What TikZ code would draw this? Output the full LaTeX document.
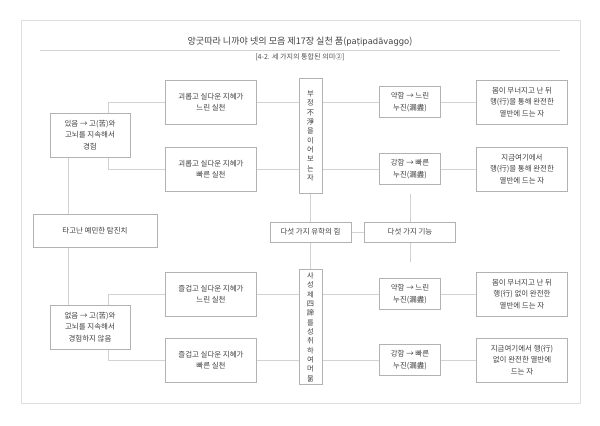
\documentclass[tikz,border=0pt]{standalone}
\usepackage{fontspec}
\setmainfont{Noto Sans CJK KR}
\newfontfamily\latinfont{DejaVu Sans}
\usepackage{tikz}
\usetikzlibrary{backgrounds}
\tikzset{
  box/.style={draw=gray!60, fill=white, align=center, inner sep=0pt, text=black!75,
              font=\fontsize{5.6}{8.5}\selectfont},
  vbox/.style={box, font=\fontsize{5.4}{7}\selectfont},
  link/.style={draw=gray!35, line width=0.5pt}
}
\begin{document}
\begin{tikzpicture}[x=0.75pt,y=-0.75pt]
         \useasboundingbox (0,0) rectangle (600,425);
         % Frame and title
         \draw [gray!25] (21,20) rectangle (580,403);
         \draw [gray!35] (40,50) -- (560,50);
         \node (title) at (300,42) [text=black!75, font=\fontsize{6.8}{8}\selectfont] {앙굿따라 니까야 넷의 모음 제17장 실천 품({\latinfont\fontsize{6.3}{8}\selectfont paṭipadāvaggo})};
         \node (sub) at (300,57) [text=black!70, font=\fontsize{5.3}{7}\selectfont] {[4-2. 세 가지의 통합된 의미②]};
         % Left column
         \node [box, minimum width=60, minimum height=33] (A1) at (90,135) {있음 → 고(苦)와\\고뇌를 지속해서\\경험};
         \node [box, minimum width=93, minimum height=25] (C)  at (95,231) {타고난 예민한 탐진치};
         \node [box, minimum width=60, minimum height=33] (A2) at (90,327) {없음 → 고(苦)와\\고뇌를 지속해서\\경험하지 않음};
         % Practice boxes
         \node [box, minimum width=68, minimum height=33] (B1) at (211,102) {괴롭고 실다운 지혜가\\느린 실천};
         \node [box, minimum width=68, minimum height=33] (B2) at (211,169) {괴롭고 실다운 지혜가\\빠른 실천};
         \node [box, minimum width=68, minimum height=33] (B3) at (211,294) {즐겁고 실다운 지혜가\\느린 실천};
         \node [box, minimum width=68, minimum height=33] (B4) at (211,360) {즐겁고 실다운 지혜가\\빠른 실천};
         % Vertical boxes
         \node [vbox, minimum width=17, minimum height=86] (V1) at (310.5,136) {부\\정\\不\\淨\\을\\이\\어\\보\\는\\자};
         \node [vbox, minimum width=17, minimum height=86] (V2) at (310.5,327) {사\\성\\제\\四\\諦\\를\\성\\취\\하\\여\\머\\묾};
         \node [box, minimum width=61, minimum height=15] (D) at (310.5,232) {다섯 가지 유학의 힘};
         \node [box, minimum width=68, minimum height=15] (E) at (410,232) {다섯 가지 기능};
         % Speed boxes
         \node [box, minimum width=46, minimum height=23] (S1) at (410,102) {약함 → 느린\\누진(漏盡)};
         \node [box, minimum width=46, minimum height=23] (S2) at (410,169) {강함 → 빠른\\누진(漏盡)};
         \node [box, minimum width=46, minimum height=23] (S3) at (410,294) {약함 → 느린\\누진(漏盡)};
         \node [box, minimum width=46, minimum height=23] (S4) at (410,360) {강함 → 빠른\\누진(漏盡)};
         % Result boxes
         \node [box, minimum width=68, minimum height=33] (R1) at (522,102) {몸이 무너지고 난 뒤\\행(行)을 통해 완전한\\열반에 드는 자};
         \node [box, minimum width=68, minimum height=33] (R2) at (522,169) {지금여기에서\\행(行)을 통해 완전한\\열반에 드는 자};
         \node [box, minimum width=68, minimum height=33] (R3) at (522,294) {몸이 무너지고 난 뒤\\행(行) 없이 완전한\\열반에 드는 자};
         \node [box, minimum width=68, minimum height=33] (R4) at (522,360) {지금여기에서 행(行)\\없이 완전한 열반에\\드는 자};
         \coordinate (brL) at (68,0);
         \coordinate (brM) at (108,0);
         \coordinate (Eend) at (410,262);
         % Connectors
         \begin{pgfonlayer}{background}
           \draw [link] (A1.south -| brL) -- (C.north -| brL);
           \draw [link] (C.south -| brL) -- (A2.north -| brL);
           \foreach \u/\l in {B1/B2, B3/B4}
             \draw [link] (\u.west) -- (\u.west -| brM) -- (\l.west -| brM) -- (\l.west);
           \foreach \b/\s/\r in {B1/S1/R1, B2/S2/R2, B3/S3/R3, B4/S4/R4}
             \draw [link] (\b.east) -- (\s.west) (\s.east) -- (\r.west);
           \draw [link] (V1.south) -- (D.north);
           \draw [link] (D.south) -- (V2.north);
           \draw [link] (D.east) -- (E.west);
           \draw [link] (E.north) -- (E.north |- V1.south);
           \draw [link] (E.south) -- (Eend);
         \end{pgfonlayer}
     \end{tikzpicture}
\end{document}
